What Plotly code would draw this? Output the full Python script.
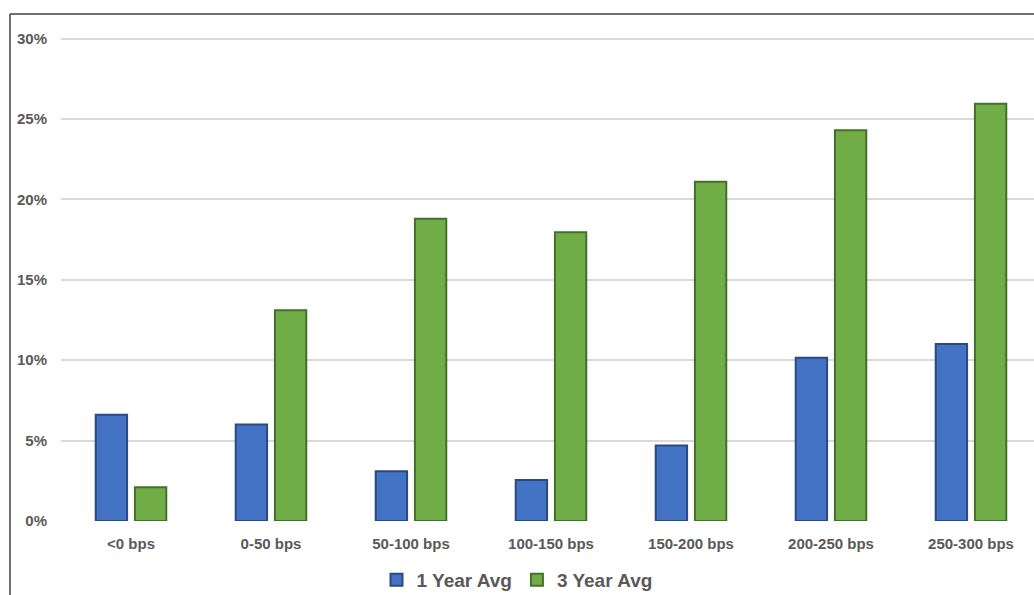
import plotly.graph_objects as go

categories = ["<0 bps", "0-50 bps", "50-100 bps", "100-150 bps", "150-200 bps", "200-250 bps", "250-300 bps"]
one_year = [6.6, 6.0, 3.1, 2.55, 4.7, 10.15, 11.0]
three_year = [2.1, 13.1, 18.8, 17.95, 21.1, 24.3, 25.95]
tick_vals = [0, 5, 10, 15, 20, 25, 30]
tick_text = ["0%", "5%", "10%", "15%", "20%", "25%", "30%"]

W, H = 1034, 595
L, R, T, B = 61, 0, 37, 74
pw, ph = W - L - R, H - T - B

fig = go.Figure()
fig.add_trace(go.Bar(name="1 Year Avg", x=categories, y=one_year,
                     marker=dict(color="#4472C4", line=dict(color="#2B4A80", width=2))))
fig.add_trace(go.Bar(name="3 Year Avg", x=categories, y=three_year,
                     marker=dict(color="#70AD47", line=dict(color="#44702A", width=2))))

font_col = "#595959"
fig.update_layout(
    width=W, height=H,
    margin=dict(l=L, r=R, t=T, b=B),
    paper_bgcolor="white", plot_bgcolor="white",
    barmode="group", bargap=0.44, bargroupgap=0.2,
    font=dict(family="Liberation Sans, Arial", color=font_col),
    showlegend=True,
    legend=dict(orientation="h", x=0.5, xref="container", xanchor="center",
                y=(H - 580) / H, yref="container", yanchor="middle",
                font=dict(size=19, color=font_col, weight="bold"),
                itemwidth=30, tracegroupgap=0),
    xaxis=dict(range=[-0.5, 6.45], showgrid=False, zeroline=False, showline=False,
               tickfont=dict(size=15, color=font_col, weight="bold"), ticks="",
               ticklabelstandoff=12),
    yaxis=dict(range=[0, 30.1], tickvals=tick_vals, ticktext=tick_text,
               showgrid=True, gridcolor="#D9D9D9", gridwidth=1.5, zeroline=False,
               showline=False, ticks="",
               tickfont=dict(size=15, color=font_col, weight="bold"), ticklabelstandoff=13),
    shapes=[
        dict(type="line", xref="paper", yref="paper",
             x0=(10 - L) / pw, x1=1.01, y0=1 + (T - 14) / ph, y1=1 + (T - 14) / ph,
             line=dict(color="#404040", width=1.5)),
        dict(type="line", xref="paper", yref="paper",
             x0=(10 - L) / pw, x1=(10 - L) / pw, y0=1 + (T - 14) / ph, y1=-B / ph - 0.01,
             line=dict(color="#404040", width=1.5)),
    ],
)
fig.write_html("out.html", config={"displayModeBar": False},
               post_script="document.body.style.margin='0';document.body.style.overflow='hidden';")
